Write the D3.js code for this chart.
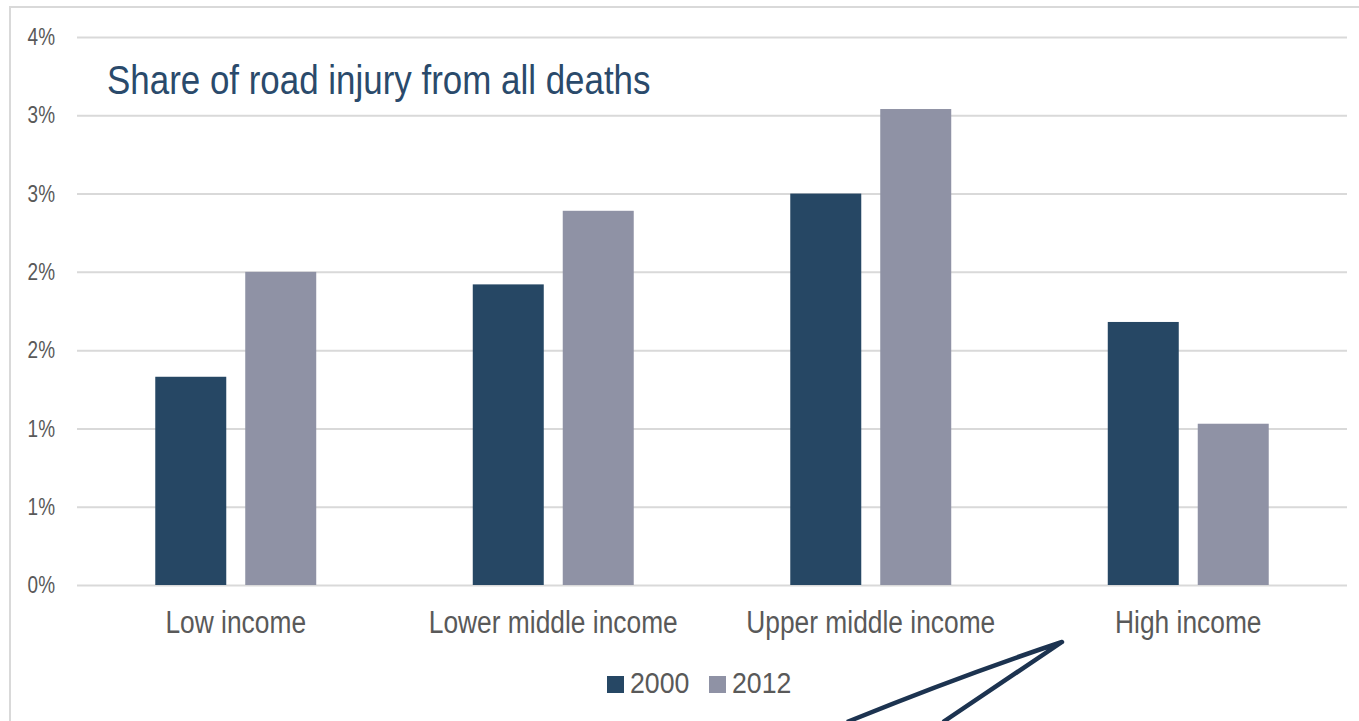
<!DOCTYPE html>
<html>
<head>
<meta charset="utf-8">
<script src="https://d3js.org/d3.v7.min.js"></script>
<style>
  body { margin: 0; background: #fff; }
  text { font-family: "Liberation Sans", Arial, sans-serif; }
</style>
</head>
<body>
<svg width="1359" height="721"></svg>
<script>
  // data (percent)
  const categories = ["Low income", "Lower middle income", "Upper middle income", "High income"];
  const years = ["2000", "2012"];
  const values2000 = [1.33, 1.92, 2.50, 1.68];
  const values2012 = [2.00, 2.39, 3.04, 1.03];
  const tickValues = [0, 0.5, 1, 1.5, 2, 2.5, 3, 3.5];
  const tickLabels = ["0%", "1%", "1%", "2%", "2%", "3%", "3%", "4%"];
  const colors = ["#264764", "#8f92a5"];

  const svg = d3.select("svg");
  const plotL = 77, plotR = 1347, plotT = 37, plotB = 585;

  // the original font is narrower than Liberation Sans, squeeze text horizontally
  function squeeze(sel, k) {
    sel.each(function() {
      const w = this.getComputedTextLength();
      d3.select(this).attr("textLength", w * k).attr("lengthAdjust", "spacingAndGlyphs");
    });
  }

  // chart frame
  svg.append("rect")
    .attr("x", 10).attr("y", 7).attr("width", 1400).attr("height", 760)
    .attr("fill", "none").attr("stroke", "#d9d9d9").attr("stroke-width", 2);

  const x = d3.scaleBand().domain(categories).range([plotL, plotR])
    .paddingInner(0.493).paddingOuter(0.2465);
  const xs = d3.scaleBand().domain(years).range([0, x.bandwidth()]).paddingInner(0.211);
  const y = d3.scaleLinear().domain([0, 3.5]).range([plotB, plotT]);

  // gridlines + y labels
  const yAxis = svg.append("g").attr("transform", "translate(" + plotL + ",0)")
    .call(d3.axisLeft(y).tickValues(tickValues)
      .tickFormat((d, i) => tickLabels[i])
      .tickSize(-(plotR - plotL)).tickPadding(22));
  yAxis.select(".domain").remove();
  yAxis.selectAll("line").attr("stroke", "#d9d9d9").attr("stroke-width", 2);
  yAxis.selectAll("text").attr("fill", "#595959").attr("font-size", 24).call(squeeze, 0.79);

  // bars
  const rows = categories.map((c, i) => ({ cat: c, vals: [values2000[i], values2012[i]] }));
  const groups = svg.append("g").selectAll("g").data(rows).enter()
    .append("g").attr("transform", d => "translate(" + x(d.cat) + ",0)");
  groups.selectAll("rect").data(d => d.vals.map((v, j) => ({ year: years[j], v: v, j: j })))
    .enter().append("rect")
    .attr("x", d => xs(d.year))
    .attr("y", d => y(d.v))
    .attr("width", xs.bandwidth())
    .attr("height", d => y(0) - y(d.v))
    .attr("fill", d => colors[d.j]);

  // category labels
  const xAxis = svg.append("g").attr("transform", "translate(0," + plotB + ")")
    .call(d3.axisBottom(x).tickSize(0).tickPadding(26));
  xAxis.select(".domain").remove();
  xAxis.selectAll("text").attr("fill", "#595959").attr("font-size", 31).call(squeeze, 0.85);

  // title
  svg.append("text").attr("x", 107).attr("y", 94)
    .attr("fill", "#2a4a6b").attr("font-size", 40)
    .text("Share of road injury from all deaths")
    .call(squeeze, 0.873);

  // legend
  const legend = svg.append("g").selectAll("g").data(years).enter().append("g")
    .attr("transform", (d, i) => "translate(" + (607 + i * 102) + ",676)");
  legend.append("rect").attr("width", 17).attr("height", 17).attr("fill", (d, i) => colors[i]);
  legend.append("text").attr("x", 23).attr("y", 17).attr("font-size", 30)
    .attr("fill", "#595959").text(d => d).call(squeeze, 0.89);

  // callout arrow
  svg.append("path")
    .attr("d", "M847,722 Q960,676 1062,642 L943,722")
    .attr("fill", "none").attr("stroke", "#1c3350").attr("stroke-width", 4.5)
    .attr("stroke-linejoin", "round");
</script>
</body>
</html>
